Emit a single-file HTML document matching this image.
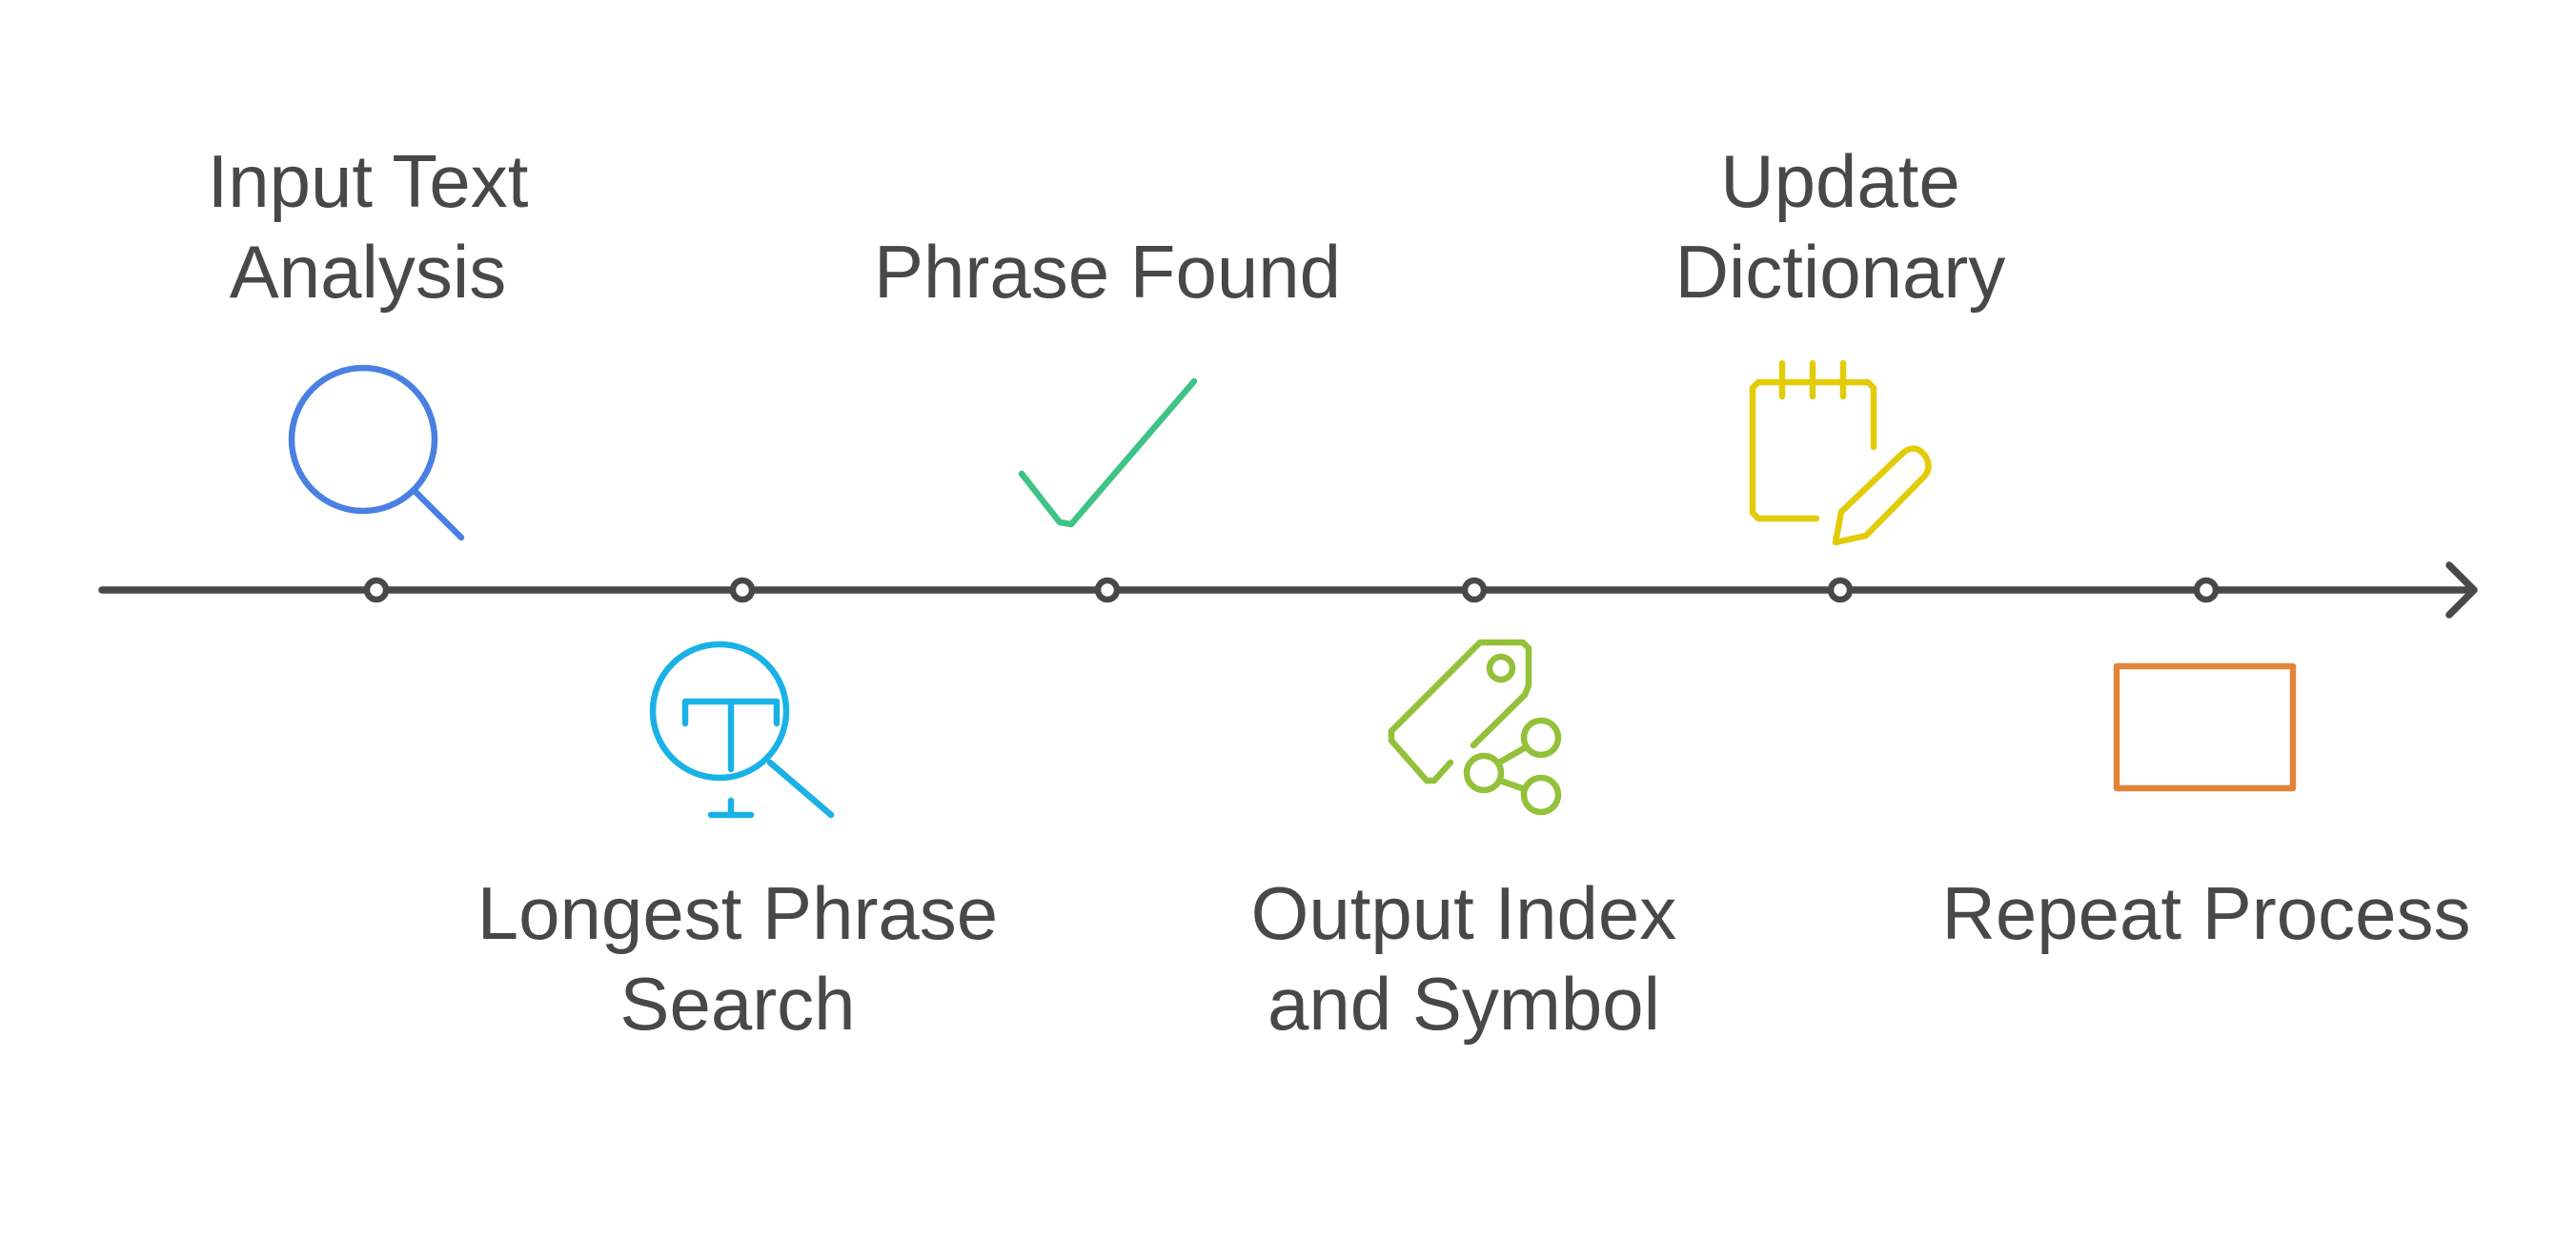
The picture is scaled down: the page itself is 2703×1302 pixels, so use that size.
<!DOCTYPE html>
<html><head><meta charset="utf-8"><style>
html,body{margin:0;padding:0;background:#fff;}
svg text{font-family:"Liberation Sans",Arial,sans-serif;font-size:78px;fill:#484848;text-anchor:middle;}
</style></head><body>
<svg width="2703" height="1297" viewBox="0 0 2703 1297" xmlns="http://www.w3.org/2000/svg">
<g fill="none" stroke-linecap="round" stroke-linejoin="round">
<line x1="107" y1="619" x2="2594" y2="619" stroke="#484848" stroke-width="7.5"/>
<polyline points="2570,593 2596,619 2570,645" stroke="#484848" stroke-width="7.5"/>
<g fill="#fff" stroke="#484848" stroke-width="6.5">
<circle cx="395" cy="619" r="10"/><circle cx="779" cy="619" r="10"/><circle cx="1162" cy="619" r="10"/>
<circle cx="1547" cy="619" r="10"/><circle cx="1931" cy="619" r="10"/><circle cx="2315" cy="619" r="10"/>
</g>
<g stroke="#4a80e2" stroke-width="6.5">
<circle cx="381" cy="461" r="75"/>
<line x1="434" y1="514" x2="484" y2="564"/>
</g>
<polyline points="1072,497 1112,548 1124,550 1253,400" stroke="#3ec486" stroke-width="6.5"/>
<g stroke="#1ab1e6" stroke-width="6.5">
<circle cx="755" cy="746" r="70"/>
<line x1="808" y1="800" x2="872" y2="855"/>
<polyline points="719,759 719,736 815,736 815,759"/>
<line x1="767" y1="736" x2="767" y2="807"/>
<line x1="767" y1="840" x2="767" y2="855"/>
<line x1="746" y1="855" x2="788" y2="855"/>
</g>
<g stroke="#93c13a" stroke-width="6.5">
<polyline points="1522,800 1505,819 1497,819 1460,777 1460,767 1553,674 1598,674 1604,680 1604,719 1600,729 1546,782"/>
<circle cx="1575" cy="701" r="12"/>
<circle cx="1557" cy="811" r="18"/>
<circle cx="1617" cy="774" r="18"/>
<circle cx="1617" cy="834" r="18"/>
<line x1="1573" y1="800" x2="1601" y2="784"/>
<line x1="1574" y1="819" x2="1600" y2="828"/>
</g>
<g stroke="#e2cc0a" stroke-width="6.5">
<polyline points="1906,544 1845,544 1839,538 1839,407 1845,401 1960,401 1966,407 1966,469"/>
<line x1="1870" y1="381" x2="1870" y2="416"/>
<line x1="1902" y1="381" x2="1902" y2="416"/>
<line x1="1934" y1="381" x2="1934" y2="416"/>
<path d="M1932,537 L1997,475 Q2010,465 2020,478 Q2027,490 2020,499 L1958,562 L1926,569 Z"/>
</g>
<rect x="2221" y="699" width="185" height="128" stroke="#e0843a" stroke-width="6.5"/>
</g>
<text x="386" y="217">Input Text</text>
<text x="386" y="312">Analysis</text>
<text x="1162" y="312">Phrase Found</text>
<text x="1931" y="217">Update</text>
<text x="1931" y="312">Dictionary</text>
<text x="774" y="985">Longest Phrase</text>
<text x="774" y="1080">Search</text>
<text x="1536" y="985">Output Index</text>
<text x="1536" y="1080">and Symbol</text>
<text x="2315" y="985">Repeat Process</text>
</svg>
</body></html>
